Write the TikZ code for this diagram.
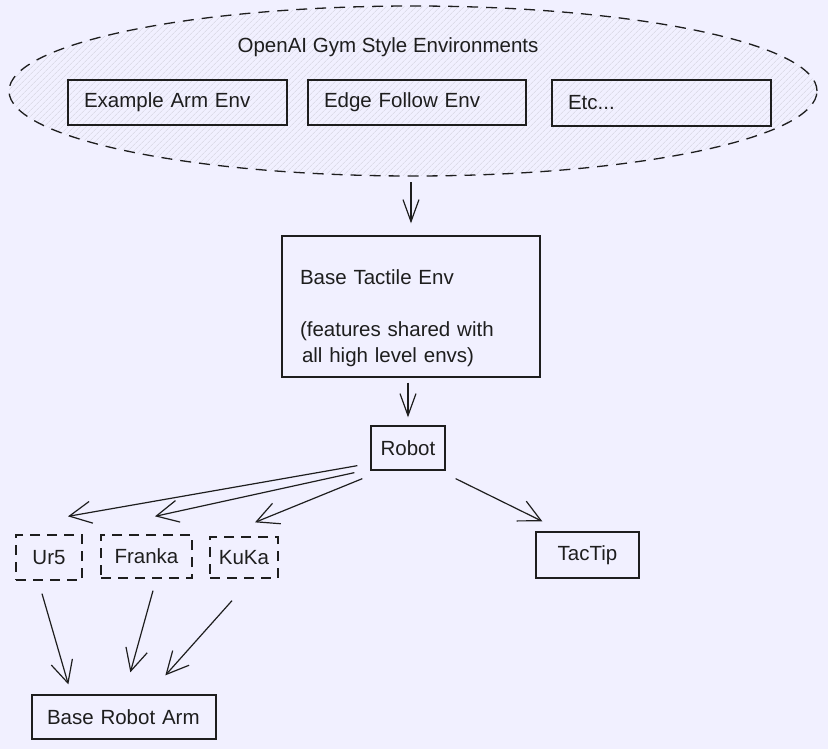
\documentclass[tikz,border=0pt]{standalone}
\usepackage{fontspec}
\setmainfont{Liberation Sans}
\usetikzlibrary{arrows.meta,patterns.meta,calc,shapes.geometric}
\definecolor{bg}{HTML}{F1F0FF}
\definecolor{ink}{HTML}{1E1E1E}
\definecolor{hatch}{HTML}{D3D2DE}
\begin{document}
\begin{tikzpicture}[x=1pt,y=-1pt,
  font=\fontsize{20.5}{26}\selectfont,
  box/.style={draw=ink, line width=1.3pt, rectangle, inner sep=0pt, text=ink},
  dbox/.style={box, dash pattern=on 10pt off 7pt},
  conn/.style={draw=ink, line width=1.2pt, -{Straight Barb[length=22pt,width=22pt,line width=1.2pt]}},
  vconn/.style={draw=ink, line width=1.2pt, -{Straight Barb[length=22pt,width=16pt,line width=1.2pt]}}]
\fill[bg] (0,0) rectangle (828,749);
\useasboundingbox (0,0) rectangle (828,749);

% group ellipse
\node[ellipse, draw=ink, line width=1.3pt, dash pattern=on 11pt off 8pt,
  minimum width=808pt, minimum height=170pt, inner sep=0pt,
  pattern={Lines[angle=45,distance=4pt,line width=0.5pt]}, pattern color=hatch] (env) at (413,91) {};
\node[text=ink] (title) at (388,47) {OpenAI Gym Style Environments};

\node[box, minimum width=219pt, minimum height=45pt, text width=187pt, align=left] (ex) at (177.5,102.5) {Example Arm Env};
\node[box, minimum width=218pt, minimum height=45pt, text width=186pt, align=left] (edge) at (417,102.5) {Edge Follow Env};
\node[box, minimum width=219pt, minimum height=46pt, text width=187pt, align=left] (etc) at (661.5,103) {Etc...};

\node[box, minimum width=258pt, minimum height=141pt, text width=222pt, align=left] (base) at (411,306.5)
  {\rule{0pt}{38pt}Base Tactile Env\\[26pt](features shared with\\ \hspace*{2pt}all high level envs)};

\node[box, minimum width=74pt, minimum height=44pt] (robot) at (408,448) {Robot};
\node[box, minimum width=103pt, minimum height=46pt] (tactip) at (587.5,555) {TacTip};

\node[dbox, minimum width=66pt, minimum height=45pt] (ur5) at (49,557.5) {Ur5};
\node[dbox, minimum width=91pt, minimum height=43pt] (franka) at (146.5,556.5) {Franka};
\node[dbox, minimum width=68pt, minimum height=41pt] (kuka) at (244,557.5) {KuKa};

\node[box, minimum width=184pt, minimum height=44pt, text width=154pt, align=left] (bra) at (124,717) {Base Robot Arm};

% connectors
\draw[vconn, shorten <=6pt, shorten >=12pt] (base.north |- env.south) -- (base.north);
\draw[vconn, shorten <=5pt, shorten >=8pt] (robot.north |- base.south) -- (robot.north);
\draw[conn] ([shift={(-13,-5)}]robot.south west) -- ([shift={(19,-18)}]ur5.north);
\draw[conn] ([shift={(-16,2)}]robot.south west) -- ([shift={(8.5,-18)}]franka.north);
\draw[conn] ([shift={(-8,8)}]robot.south west) -- ([shift={(11,-14)}]kuka.north);
\draw[conn] ([shift={(10,8)}]robot.south east) -- ([shift={(7,-10)}]tactip.north west);
\draw[conn] ([shift={(-7,13)}]ur5.south) -- ([shift={(37,-10)}]bra.north west);
\draw[conn] ([shift={(6.5,12)}]franka.south) -- ([shift={(99,-22)}]bra.north west);
\draw[conn] ([shift={(-12,22)}]kuka.south) -- ([shift={(134,-19)}]bra.north west);
\end{tikzpicture}
\end{document}
